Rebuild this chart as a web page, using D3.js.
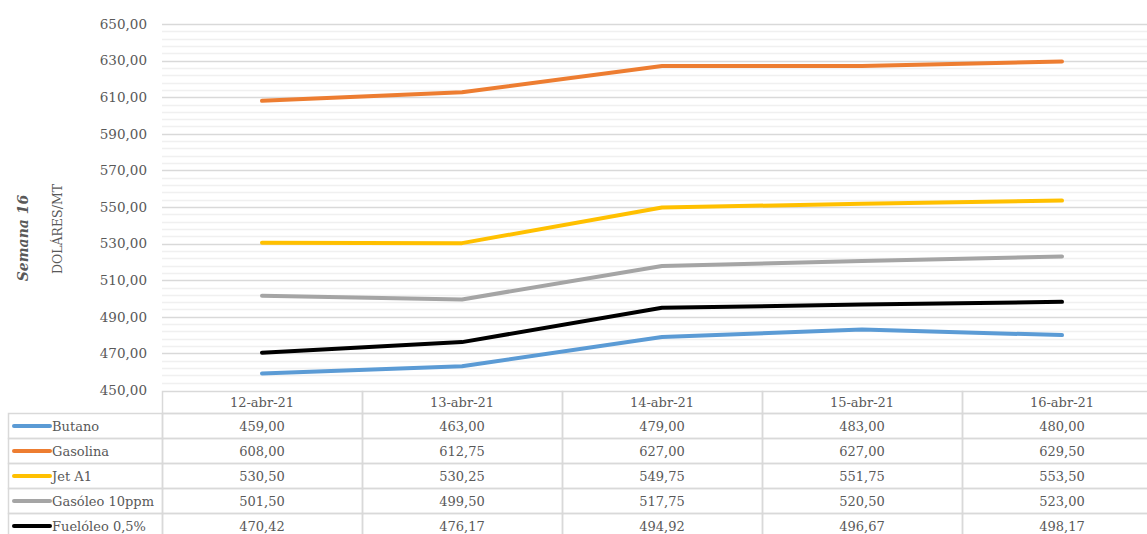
<!DOCTYPE html>
<html>
<head>
<meta charset="utf-8">
<script src="https://cdn.jsdelivr.net/npm/d3@7"></script>
<style>
  html, body { margin: 0; padding: 0; background: #fff; }
  svg { display: block; }
  text { font-family: "DejaVu Serif", "Liberation Serif", serif; fill: #595959; }
</style>
</head>
<body>
<svg id="chart" width="1147" height="534"></svg>
<script>
const dates = ["12-abr-21", "13-abr-21", "14-abr-21", "15-abr-21", "16-abr-21"];
const seriesNames = ["Butano", "Gasolina", "Jet A1", "Gasóleo 10ppm", "Fuelóleo 0,5%"];
const seriesColors = ["#5B9BD5", "#ED7D31", "#FFC000", "#A5A5A5", "#000000"];
const butano = [459.00, 463.00, 479.00, 483.00, 480.00];
const gasolina = [608.00, 612.75, 627.00, 627.00, 629.50];
const jetA1 = [530.50, 530.25, 549.75, 551.75, 553.50];
const gasoleo = [501.50, 499.50, 517.75, 520.50, 523.00];
const fueloleo = [470.42, 476.17, 494.92, 496.67, 498.17];
const yTicks = [450, 470, 490, 510, 530, 550, 570, 590, 610, 630, 650];
const yMinorStep = 4;
const titleText = "Semana 16";
const unitText = "DOLÁRES/MT";

const seriesValues = [butano, gasolina, jetA1, gasoleo, fueloleo];

const svg = d3.select("#chart");
const W = 1147;
const plotLeft = 162, plotTop = 24, plotBottom = 390;

const x = d3.scaleBand().domain(dates).range([plotLeft, plotLeft + 200 * dates.length]).padding(0);
const y = d3.scaleLinear().domain([450, 650]).range([plotBottom, plotTop]);
const cx = d => x(d) + x.bandwidth() / 2;

const fmt = v => d3.format(".2f")(v).replace(".", ",");

// minor gridlines
const minor = d3.range(450, 650 + 0.001, yMinorStep).filter(v => !yTicks.includes(v));
svg.append("g").selectAll("line").data(minor).join("line")
  .attr("x1", plotLeft).attr("x2", W)
  .attr("y1", d => Math.round(y(d)) + 0.5).attr("y2", d => Math.round(y(d)) + 0.5)
  .attr("stroke", "#f0f0f0").attr("stroke-width", 1.5);

// major gridlines
svg.append("g").selectAll("line").data(yTicks.filter(v => v !== 450)).join("line")
  .attr("x1", plotLeft).attr("x2", W)
  .attr("y1", d => Math.round(y(d)) + 0.5).attr("y2", d => Math.round(y(d)) + 0.5)
  .attr("stroke", "#d9d9d9").attr("stroke-width", 1.5);

// y axis labels
const yAxis = d3.axisLeft(y).tickValues(yTicks).tickFormat(fmt).tickSize(0).tickPadding(0);
const gy = svg.append("g").attr("transform", `translate(147,0)`).call(yAxis);
gy.select(".domain").remove();
gy.selectAll("text").attr("font-size", 13.5).attr("fill", "#595959")
  .attr("font-family", '"DejaVu Serif", serif');

// titles
svg.append("text")
  .attr("transform", `translate(28,238) rotate(-90)`)
  .attr("text-anchor", "middle")
  .attr("font-size", 14).attr("font-weight", "bold").attr("font-style", "italic")
  .attr("fill", "#595959")
  .text(titleText);
svg.append("text")
  .attr("transform", `translate(62,229) rotate(-90)`)
  .attr("text-anchor", "middle")
  .attr("font-size", 12.5)
  .attr("fill", "#595959")
  .text(unitText);

// lines
const line = d3.line().x((d, i) => cx(dates[i])).y(d => y(d));
svg.append("g").selectAll("path").data(seriesValues).join("path")
  .attr("d", d => line(d))
  .attr("fill", "none")
  .attr("stroke", (d, i) => seriesColors[i])
  .attr("stroke-width", 4)
  .attr("stroke-linecap", "round")
  .attr("stroke-linejoin", "round");

// data table
const tableTop = 391, headerH = 22, rowH = 25;
const legendLeft = 8;
const tg = svg.append("g");
const borderColor = "#d9d9d9";

// header row
tg.selectAll("rect.hdr").data(dates).join("rect")
  .attr("class", "hdr")
  .attr("x", d => x(d) + 0.5).attr("y", tableTop + 0.5)
  .attr("width", x.bandwidth()).attr("height", headerH)
  .attr("fill", "none").attr("stroke", borderColor).attr("stroke-width", 1.5);
tg.selectAll("text.hdr").data(dates).join("text")
  .attr("class", "hdr")
  .attr("x", d => cx(d)).attr("y", tableTop + headerH / 2 + 5)
  .attr("text-anchor", "middle").attr("font-size", 13)
  .text(d => d);

seriesNames.forEach((name, i) => {
  const ry = tableTop + headerH + i * rowH;
  tg.append("rect")
    .attr("x", legendLeft + 0.5).attr("y", ry + 0.5)
    .attr("width", plotLeft - legendLeft).attr("height", rowH)
    .attr("fill", "none").attr("stroke", borderColor).attr("stroke-width", 1.5);
  tg.append("line")
    .attr("x1", 14).attr("x2", 50)
    .attr("y1", ry + rowH / 2 + 0.5).attr("y2", ry + rowH / 2 + 0.5)
    .attr("stroke", seriesColors[i]).attr("stroke-width", 4)
    .attr("stroke-linecap", "round");
  tg.append("text")
    .attr("x", 52).attr("y", ry + rowH / 2 + 5)
    .attr("font-size", 13)
    .text(name);
  dates.forEach((dt, j) => {
    tg.append("rect")
      .attr("x", x(dt) + 0.5).attr("y", ry + 0.5)
      .attr("width", x.bandwidth()).attr("height", rowH)
      .attr("fill", "none").attr("stroke", borderColor).attr("stroke-width", 1.5);
    tg.append("text")
      .attr("x", cx(dt)).attr("y", ry + rowH / 2 + 5)
      .attr("text-anchor", "middle").attr("font-size", 13)
      .text(fmt(seriesValues[i][j]));
  });
});
</script>
</body>
</html>
